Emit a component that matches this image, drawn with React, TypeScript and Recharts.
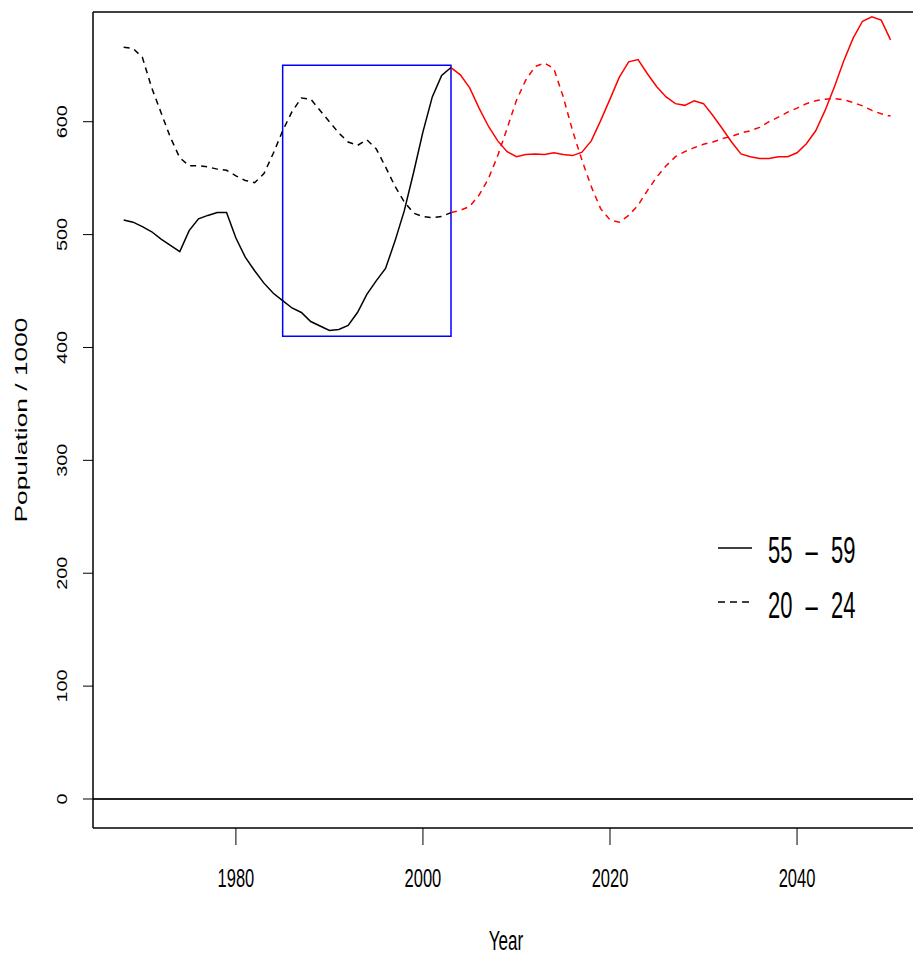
import React from 'react';
import { ComposedChart, Line, XAxis, YAxis, ReferenceLine, ReferenceArea } from 'recharts';

const histYears = [1968, 1969, 1970, 1971, 1972, 1973, 1974, 1975, 1976, 1977, 1978, 1979, 1980, 1981, 1982, 1983, 1984, 1985, 1986, 1987, 1988, 1989, 1990, 1991, 1992, 1993, 1994, 1995, 1996, 1997, 1998, 1999, 2000, 2001, 2002, 2003];
const hist5559 = [513, 511, 507, 502.5, 496, 490.5, 485, 503.5, 514, 517, 519.5, 519.5, 497, 480, 468, 457, 448, 441.5, 435, 431, 423, 419, 415, 416, 419.5, 431, 447, 459, 470, 494, 521, 555, 591, 622, 641, 648];
const hist2024 = [666, 665, 657, 630, 608, 586, 568, 561, 561, 560, 558, 557, 552, 548, 546, 554, 572, 592, 609, 621, 620, 610, 600, 590, 582, 579, 584, 576, 560, 543, 529, 519, 516, 515, 516, 519.5];

const projYears = [2003, 2004, 2005, 2006, 2007, 2008, 2009, 2010, 2011, 2012, 2013, 2014, 2015, 2016, 2017, 2018, 2019, 2020, 2021, 2022, 2023, 2024, 2025, 2026, 2027, 2028, 2029, 2030, 2031, 2032, 2033, 2034, 2035, 2036, 2037, 2038, 2039, 2040, 2041, 2042, 2043, 2044, 2045, 2046, 2047, 2048, 2049, 2050];
const proj5559 = [648, 641.5, 630, 612, 596, 583, 573.5, 569, 571, 571.5, 571, 572.5, 571, 570, 573, 583, 601, 620, 639.5, 653, 655, 642.5, 631, 622, 616, 614.5, 618.5, 616, 605.5, 594, 582, 571.5, 569, 567.5, 567.5, 569, 569, 572.5, 580.5, 592, 610, 631, 654, 674, 689, 693, 690, 672.5];
const proj2024 = [519.5, 521.5, 525, 535, 549.5, 570, 594, 619, 637, 649, 652, 647, 622, 592, 566, 542.5, 523, 513, 511, 517, 526, 539, 551, 561, 569, 573.5, 577, 580, 582, 585, 587, 590, 592, 595, 600, 604, 608.5, 612, 616, 618.5, 620, 620.5, 619.5, 617, 614, 610, 607, 605];

const yTicks = [0, 100, 200, 300, 400, 500, 600];
const xTicks = [1980, 2000, 2020, 2040];
const legendLabels = ['55 – 59', '20 – 24'];
const boxYears = [1985, 2003];
const boxValues = [410, 650];

const X_DOMAIN: [number, number] = [1964.72, 2052.4];
const Y_DOMAIN: [number, number] = [-25.7, 697.2];

type Row = { year: number; h55?: number; h20?: number; p55?: number; p20?: number };
const rowMap = new Map<number, Row>();
histYears.forEach((yr, i) => {
  const r = rowMap.get(yr) || { year: yr };
  r.h55 = hist5559[i];
  r.h20 = hist2024[i];
  rowMap.set(yr, r);
});
projYears.forEach((yr, i) => {
  const r = rowMap.get(yr) || { year: yr };
  r.p55 = proj5559[i];
  r.p20 = proj2024[i];
  rowMap.set(yr, r);
});
const data: Row[] = Array.from(rowMap.values()).sort((a, b) => a.year - b.year);

const FONT = '"Liberation Sans", Arial, Helvetica, sans-serif';

const XTick = (props: any) => {
  const { x, payload } = props;
  return (
    <text
      transform={`translate(${x}, 887) scale(1, 1.6)`}
      textAnchor="middle"
      fontFamily={FONT}
      fontSize={16.5}
      fill="#000"
    >
      {payload.value}
    </text>
  );
};

const YTick = (props: any) => {
  const { y, payload } = props;
  return (
    <text
      transform={`translate(67, ${y}) rotate(-90) scale(1.32, 1)`}
      textAnchor="middle"
      fontFamily={FONT}
      fontSize={15}
      fill="#000"
    >
      {payload.value}
    </text>
  );
};

export default function App() {
  return (
    <div style={{ position: 'absolute', left: 0, top: 0, width: 914, height: 956, overflow: 'hidden', background: '#fff' }}>
      <ComposedChart
        width={914}
        height={956}
        data={data}
        margin={{ top: 12, right: 1, bottom: 0, left: 0 }}
      >
        <XAxis
          dataKey="year"
          type="number"
          domain={X_DOMAIN}
          allowDataOverflow
          ticks={xTicks}
          tickSize={17}
          tickMargin={0}
          height={128}
          axisLine={{ stroke: '#000', strokeWidth: 1.5 }}
          tickLine={{ stroke: '#000', strokeWidth: 1 }}
          tick={(p: any) => <XTick {...p} />}
        />
        <YAxis
          type="number"
          domain={Y_DOMAIN}
          allowDataOverflow
          ticks={yTicks}
          tickSize={10}
          tickMargin={0}
          width={93}
          axisLine={{ stroke: '#000', strokeWidth: 1.5 }}
          tickLine={{ stroke: '#000', strokeWidth: 1 }}
          tick={(p: any) => <YTick {...p} />}
        />
        <ReferenceLine y={Y_DOMAIN[1]} stroke="#000" strokeWidth={1.5} ifOverflow="visible" />
        <ReferenceLine y={0} stroke="#222" strokeWidth={2} />
        <ReferenceArea
          x1={boxYears[0]}
          x2={boxYears[1]}
          y1={boxValues[0]}
          y2={boxValues[1]}
          fill="none"
          fillOpacity={0}
          stroke="#0000ff"
          strokeWidth={1.5}
        />
        <Line dataKey="h55" stroke="#000" strokeWidth={1.5} dot={false} activeDot={false} isAnimationActive={false} type="linear" />
        <Line dataKey="h20" stroke="#000" strokeWidth={1.5} strokeDasharray="6 5" dot={false} activeDot={false} isAnimationActive={false} type="linear" />
        <Line dataKey="p55" stroke="#ff0000" strokeWidth={1.5} dot={false} activeDot={false} isAnimationActive={false} type="linear" />
        <Line dataKey="p20" stroke="#ff0000" strokeWidth={1.5} strokeDasharray="6 5" dot={false} activeDot={false} isAnimationActive={false} type="linear" />
      </ComposedChart>
      <svg width={914} height={956} style={{ position: 'absolute', left: 0, top: 0, pointerEvents: 'none' }}>
        <text
          transform="translate(27, 420) rotate(-90) scale(1.55, 1)"
          textAnchor="middle"
          fontFamily={FONT}
          fontSize={17}
          fill="#000"
        >
          Population / 1000
        </text>
        <text
          transform="translate(506, 950) scale(1, 1.6)"
          textAnchor="middle"
          fontFamily={FONT}
          fontSize={17}
          fill="#000"
        >
          Year
        </text>
        <line x1={718} x2={752} y1={548} y2={548} stroke="#000" strokeWidth={1.5} />
        <text transform="translate(768, 563) scale(1, 1.7)" fontFamily={FONT} fontSize={22} wordSpacing={7} fill="#000">
          {legendLabels[0]}
        </text>
        <line x1={718} x2={752} y1={602} y2={602} stroke="#000" strokeWidth={1.5} strokeDasharray="7 5" />
        <text transform="translate(768, 618) scale(1, 1.7)" fontFamily={FONT} fontSize={22} wordSpacing={7} fill="#000">
          {legendLabels[1]}
        </text>
      </svg>
    </div>
  );
}
